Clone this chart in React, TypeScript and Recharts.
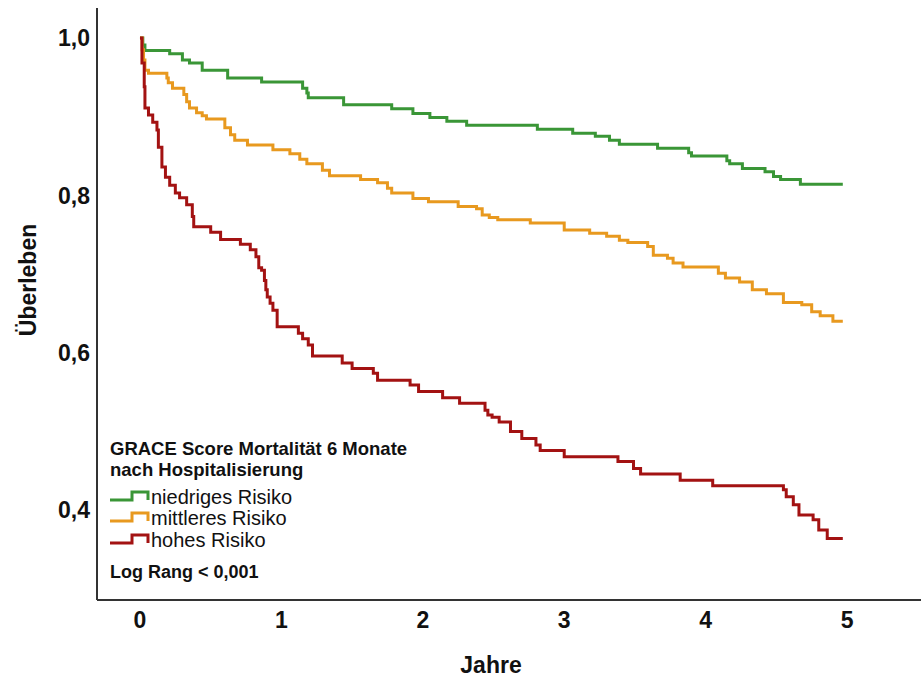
import React from 'react';
import { LineChart, Line, XAxis, YAxis, Legend } from 'recharts';

// Kaplan-Meier steps: [Jahre, Überleben]
const lowRisk: [number, number][] = [
  [0, 1.0], [0.02, 0.991], [0.035, 0.984], [0.21, 0.98], [0.3, 0.972], [0.35, 0.968],
  [0.44, 0.959], [0.62, 0.949], [0.86, 0.944], [1.15, 0.936], [1.18, 0.93], [1.19, 0.924],
  [1.44, 0.915], [1.78, 0.91], [1.93, 0.904], [2.05, 0.899], [2.17, 0.894], [2.31, 0.889],
  [2.81, 0.884], [3.06, 0.879], [3.22, 0.875], [3.32, 0.87], [3.39, 0.865], [3.66, 0.86],
  [3.88, 0.854], [3.9, 0.85], [4.15, 0.844], [4.17, 0.84], [4.26, 0.834], [4.42, 0.83],
  [4.48, 0.824], [4.53, 0.82], [4.67, 0.814], [4.97, 0.814],
];

const midRisk: [number, number][] = [
  [0, 1.0], [0.015, 0.985], [0.025, 0.972], [0.035, 0.959], [0.06, 0.955], [0.19, 0.949],
  [0.2, 0.943], [0.23, 0.936], [0.31, 0.928], [0.33, 0.919], [0.35, 0.911], [0.4, 0.905],
  [0.44, 0.901], [0.47, 0.897], [0.6, 0.886], [0.64, 0.877], [0.67, 0.87], [0.76, 0.864],
  [0.94, 0.858], [1.06, 0.853], [1.13, 0.846], [1.18, 0.84], [1.29, 0.832], [1.34, 0.825],
  [1.56, 0.82], [1.68, 0.816], [1.75, 0.809], [1.78, 0.803], [1.93, 0.796], [2.04, 0.792],
  [2.25, 0.786], [2.38, 0.783], [2.42, 0.775], [2.47, 0.772], [2.53, 0.769], [2.76, 0.765],
  [3.0, 0.756], [3.18, 0.752], [3.3, 0.748], [3.39, 0.743], [3.45, 0.74], [3.59, 0.735],
  [3.63, 0.724], [3.73, 0.72], [3.77, 0.714], [3.84, 0.709], [4.09, 0.701], [4.14, 0.695],
  [4.24, 0.69], [4.33, 0.68], [4.43, 0.675], [4.55, 0.664], [4.68, 0.661], [4.75, 0.652],
  [4.81, 0.647], [4.9, 0.64], [4.97, 0.64],
];

const highRisk: [number, number][] = [
  [0, 1.0], [0.014, 0.968], [0.03, 0.938], [0.035, 0.911], [0.06, 0.902], [0.09, 0.893],
  [0.12, 0.883], [0.13, 0.861], [0.155, 0.836], [0.18, 0.823], [0.21, 0.813], [0.25, 0.803],
  [0.28, 0.797], [0.33, 0.788], [0.37, 0.773], [0.38, 0.76], [0.5, 0.753], [0.57, 0.744],
  [0.71, 0.738], [0.78, 0.731], [0.82, 0.722], [0.84, 0.708], [0.86, 0.705], [0.88, 0.692],
  [0.89, 0.68], [0.9, 0.671], [0.92, 0.663], [0.94, 0.654], [0.97, 0.633], [1.12, 0.625],
  [1.15, 0.618], [1.19, 0.61], [1.22, 0.596], [1.43, 0.587], [1.5, 0.58], [1.65, 0.574],
  [1.68, 0.565], [1.91, 0.559], [1.97, 0.551], [2.14, 0.543], [2.26, 0.536], [2.44, 0.527],
  [2.46, 0.521], [2.49, 0.518], [2.54, 0.512], [2.62, 0.5], [2.7, 0.491], [2.8, 0.483],
  [2.83, 0.476], [3.0, 0.468], [3.38, 0.462], [3.49, 0.453], [3.54, 0.446], [3.82, 0.438],
  [4.05, 0.431], [4.55, 0.426], [4.57, 0.417], [4.62, 0.407], [4.66, 0.394], [4.76, 0.388],
  [4.8, 0.375], [4.86, 0.364], [4.97, 0.364],
];

const seriesNames = ['niedriges Risiko', 'mittleres Risiko', 'hohes Risiko'];
const seriesColors = ['#3A9637', '#E8991F', '#A31212'];
const xTicks = [0, 1, 2, 3, 4, 5];
const yTicks = [0.4, 0.6, 0.8, 1.0];
const legendTitle = ['GRACE Score Mortalität 6 Monate', 'nach Hospitalisierung'];
const legendNote = 'Log Rang < 0,001';

const toRows = (arr: [number, number][]) => arr.map(([t, s]) => ({ t, s }));
const allSeries = [lowRisk, midRisk, highRisk].map(toRows);

const FONT = "'Liberation Sans', Arial, Helvetica, sans-serif";

const LegendContent = () => {
  // coordinates relative to legend box (left 100, top 430)
  const baselines = [74, 95, 117];
  return (
    <svg width={340} height={160} style={{ display: 'block' }}>
      <text x={10} y={25} fontSize={18.5} fontWeight="bold" fill="#111" fontFamily={FONT}>{legendTitle[0]}</text>
      <text x={10} y={46} fontSize={18.5} fontWeight="bold" fill="#111" fontFamily={FONT}>{legendTitle[1]}</text>
      {seriesNames.map((name, i) => {
        const low = baselines[i] - 4;
        return (
          <g key={name}>
            <path d={`M10,${low} H32 V${low - 8} H48 V${low}`} fill="none" stroke={seriesColors[i]} strokeWidth={3} />
            <text x={51} y={baselines[i]} fontSize={20} fill="#111" fontFamily={FONT}>{name}</text>
          </g>
        );
      })}
      <text x={10} y={148} fontSize={18} fontWeight="bold" fill="#111" fontFamily={FONT}>{legendNote}</text>
    </svg>
  );
};

export default function App() {
  return (
    <div style={{ position: 'absolute', left: 0, top: 0, width: 921, height: 680, background: '#fff' }}>
      <LineChart width={921} height={680} margin={{ top: 8, right: 0, bottom: 0, left: 0 }} style={{ fontFamily: FONT }}>
        <XAxis
          type="number"
          dataKey="t"
          domain={[-0.304, 5.523]}
          ticks={xTicks}
          allowDataOverflow
          height={80}
          tickSize={0}
          tickMargin={12}
          axisLine={{ stroke: '#333', strokeWidth: 2 }}
          tick={{ fontSize: 23, fontWeight: 'bold', fill: '#111', fontFamily: FONT }}
          label={{ value: 'Jahre', position: 'center', dx: -18, dy: 25, fontSize: 23, fontWeight: 'bold', fill: '#111', fontFamily: FONT }}
        />
        <YAxis
          type="number"
          domain={[0.286, 1.038]}
          ticks={yTicks}
          allowDataOverflow
          width={97}
          tickSize={0}
          tickMargin={7}
          axisLine={{ stroke: '#333', strokeWidth: 2 }}
          tickFormatter={(v: number) => v.toFixed(1).replace('.', ',')}
          tick={{ fontSize: 23, fontWeight: 'bold', fill: '#111', fontFamily: FONT }}
          label={{ value: 'Überleben', angle: -90, position: 'center', dx: -21, dy: -24, fontSize: 23, fontWeight: 'bold', fill: '#111', fontFamily: FONT }}
        />
        {allSeries.map((rows, i) => (
          <Line
            key={seriesNames[i]}
            name={seriesNames[i]}
            data={rows}
            dataKey="s"
            type="stepAfter"
            stroke={seriesColors[i]}
            strokeWidth={3}
            dot={false}
            activeDot={false}
            isAnimationActive={false}
          />
        ))}
        <Legend
          layout="vertical"
          align="center"
          verticalAlign="middle"
          content={<LegendContent />}
          wrapperStyle={{ position: 'absolute', left: 100, top: 430, width: 340, height: 160 }}
        />
      </LineChart>
    </div>
  );
}
